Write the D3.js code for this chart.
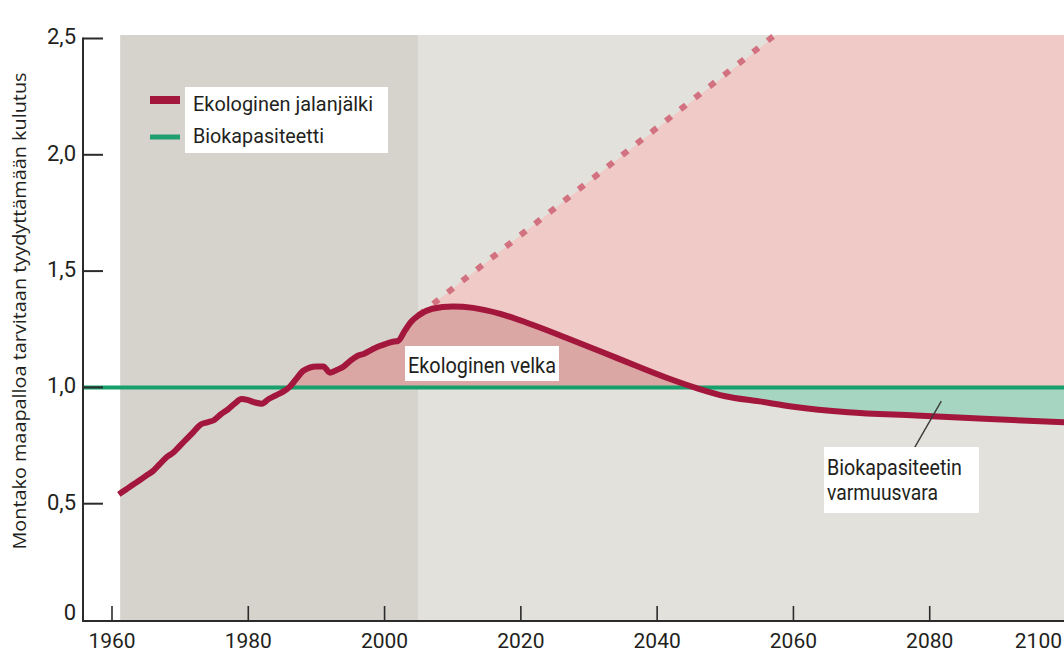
<!DOCTYPE html>
<html>
<head>
<meta charset="utf-8">
<script src="https://cdn.jsdelivr.net/npm/d3@7"></script>
<style>
  body { margin: 0; background: #fff; }
  svg { display: block; }
  .narrow { font-family: "Liberation Sans Narrow", "Arial Narrow", Roboto, sans-serif; fill: #231f20; }
</style>
</head>
<body>
<svg id="chart" width="1064" height="654"></svg>
<script>
// historical footprint, 1961-2005
const histYears = [1961,1962,1963,1964,1965,1966,1967,1968,1969,1970,1971,1972,1973,1974,1975,1976,1977,1978,1979,1980,
  1981,1982,1983,1984,1985,1986,1987,1988,1989,1990,1991,1992,1993,1994,1995,1996,1997,1998,1999,2000,2001,2002,2003,2004,2005];
const histValues = [0.54,0.56,0.58,0.60,0.62,0.64,0.67,0.70,0.72,0.75,0.78,0.81,0.84,0.85,0.86,0.885,0.905,0.93,0.95,0.945,
  0.935,0.93,0.95,0.965,0.98,1.00,1.035,1.07,1.085,1.09,1.09,1.063,1.075,1.09,1.115,1.135,1.145,1.16,1.175,1.185,1.195,1.2,1.245,1.285,1.31];
// scenario after 2005
const futureYears = [2007,2010,2013,2017,2022,2027,2032,2037,2042,2046,2050,2055,2060,2068,2078,2088,2100];
const futureValues = [1.338,1.348,1.342,1.316,1.266,1.209,1.151,1.092,1.035,0.995,0.962,0.94,0.917,0.893,0.879,0.865,0.85];
// business as usual (dashed)
const bauYears = [2005, 2057.5];
const bauValues = [1.31, 2.52];
// biocapacity
const bioYears = [1955.75, 2100];
const bioValues = [1, 1];

const xTicks = [1960,1980,2000,2020,2040,2060,2080,2100];
const yTicks = [0,0.5,1,1.5,2,2.5];
const yTickLabels = ["0","0,5","1,0","1,5","2,0","2,5"];

const W = 1064, H = 654;
const svg = d3.select("#chart");
const x = d3.scaleLinear().domain([1960, 2100]).range([112, 1066]);
const y = d3.scaleLinear().domain([0, 2.5]).range([620, 38.5]);
const axisX = 83;
const plotTop = y(2.515), plotBottom = y(0) + 1;

const foot = histYears.map((d, i) => ({year: d, v: histValues[i]}))
  .concat(futureYears.map((d, i) => ({year: d, v: futureValues[i]})));

// backgrounds
svg.append("rect").attr("x", x(1961.2)).attr("y", plotTop)
  .attr("width", x(2005) - x(1961.2)).attr("height", plotBottom - plotTop).attr("fill", "#d6d3cd");
svg.append("rect").attr("x", x(2005)).attr("y", plotTop)
  .attr("width", W - x(2005)).attr("height", plotBottom - plotTop).attr("fill", "#e3e1dc");

// light pink region under the BAU line
const pinkPts = [[bauYears[0], bauValues[0]], [bauYears[1], 2.515], [2100, 2.515], [2100, 1], [bauYears[0], 1]];
svg.append("path")
  .attr("d", d3.line().x(d => x(d[0])).y(d => y(d[1]))(pinkPts) + "Z")
  .attr("fill", "#efcac6");

const defs = svg.append("defs");
defs.append("clipPath").attr("id", "above")
  .append("rect").attr("x", x(1961)).attr("y", 0).attr("width", W).attr("height", y(1));
defs.append("clipPath").attr("id", "below")
  .append("rect").attr("x", x(2040)).attr("y", y(1)).attr("width", W).attr("height", H - y(1));

const area = d3.area().x(d => x(d.year)).y0(y(1)).y1(d => y(d.v)).curve(d3.curveMonotoneX);
svg.append("path").attr("d", area(foot)).attr("fill", "#dba7a5").attr("clip-path", "url(#above)");
svg.append("path").attr("d", area(foot)).attr("fill", "#a6d6c2").attr("clip-path", "url(#below)");

// biocapacity line
svg.append("path")
  .attr("d", d3.line().x(d => x(d[0])).y(d => y(d[1]))(bioYears.map((d, i) => [d, bioValues[i]])))
  .attr("stroke", "#17a06b").attr("stroke-width", 4).attr("fill", "none");

// BAU dashed
svg.append("path")
  .attr("d", d3.line().x(d => x(d[0])).y(d => y(d[1]))(bauYears.map((d, i) => [d, bauValues[i]])))
  .attr("stroke", "#d27281").attr("stroke-width", 6).attr("stroke-dasharray", "7,11.5")
  .attr("fill", "none");

// footprint curve
svg.append("path")
  .attr("d", d3.line().x(d => x(d.year)).y(d => y(d.v)).curve(d3.curveMonotoneX)(foot))
  .attr("stroke", "#a3173d").attr("stroke-width", 6).attr("fill", "none")
  .attr("stroke-linejoin", "round");

// axes
svg.append("line").attr("x1", axisX).attr("x2", axisX).attr("y1", y(2.5) - 1).attr("y2", plotBottom + 1)
  .attr("stroke", "#2b2b2b").attr("stroke-width", 2);
svg.append("line").attr("x1", axisX - 1).attr("x2", W).attr("y1", plotBottom).attr("y2", plotBottom)
  .attr("stroke", "#2b2b2b").attr("stroke-width", 2);

yTicks.forEach((t, i) => {
  if (t > 0) svg.append("line").attr("x1", axisX).attr("x2", axisX + 20).attr("y1", y(t)).attr("y2", y(t))
    .attr("stroke", "#2b2b2b").attr("stroke-width", 2);
  svg.append("text").attr("class", "narrow").attr("x", 76).attr("y", t > 0 ? y(t) : y(t) - 6)
    .attr("text-anchor", "end").attr("dominant-baseline", "middle")
    .attr("font-size", 22).text(yTickLabels[i]);
});

xTicks.forEach((t, i) => {
  svg.append("line").attr("x1", x(t)).attr("x2", x(t)).attr("y1", plotBottom - 15).attr("y2", plotBottom)
    .attr("stroke", "#2b2b2b").attr("stroke-width", 1.6);
  const last = i === xTicks.length - 1;
  svg.append("text").attr("class", "narrow")
    .attr("x", last ? W - 2 : x(t)).attr("y", 648)
    .attr("text-anchor", last ? "end" : "middle")
    .attr("font-size", 21).text(t);
});

svg.append("text")
  .attr("transform", "translate(26,311) rotate(-90)")
  .attr("text-anchor", "middle")
  .attr("font-family", "'Open Sans', sans-serif").attr("font-size", 19).attr("fill", "#231f20")
  .attr("textLength", 477).attr("lengthAdjust", "spacingAndGlyphs")
  .text("Montako maapalloa tarvitaan tyydyttämään kulutus");

// legend
const legend = svg.append("g");
legend.append("rect").attr("x", 185).attr("y", 87).attr("width", 203).attr("height", 66).attr("fill", "#fff");
legend.append("line").attr("x1", 150).attr("x2", 180).attr("y1", 100).attr("y2", 100)
  .attr("stroke", "#a3173d").attr("stroke-width", 8);
legend.append("line").attr("x1", 150).attr("x2", 180).attr("y1", 137).attr("y2", 137)
  .attr("stroke", "#1f9e70").attr("stroke-width", 5);
legend.append("text").attr("class", "narrow").attr("x", 193).attr("y", 111).attr("font-size", 21)
  .attr("textLength", 180).attr("lengthAdjust", "spacingAndGlyphs").text("Ekologinen jalanjälki");
legend.append("text").attr("class", "narrow").attr("x", 193).attr("y", 143).attr("font-size", 21)
  .attr("textLength", 131).attr("lengthAdjust", "spacingAndGlyphs").text("Biokapasiteetti");

// annotations
svg.append("rect").attr("x", 405).attr("y", 346).attr("width", 154).attr("height", 35).attr("fill", "#fff");
svg.append("text").attr("class", "narrow").attr("x", 408).attr("y", 373).attr("font-size", 22)
  .attr("textLength", 148).attr("lengthAdjust", "spacingAndGlyphs").text("Ekologinen velka");

svg.append("line").attr("x1", x(2077.8)).attr("y1", y(0.742)).attr("x2", x(2081.7)).attr("y2", y(0.941))
  .attr("stroke", "#3a3a3a").attr("stroke-width", 1.4);
svg.append("rect").attr("x", 824).attr("y", 447).attr("width", 155).attr("height", 66).attr("fill", "#fff");
svg.append("text").attr("class", "narrow").attr("x", 827).attr("y", 475).attr("font-size", 22)
  .attr("textLength", 135).attr("lengthAdjust", "spacingAndGlyphs").text("Biokapasiteetin");
svg.append("text").attr("class", "narrow").attr("x", 827).attr("y", 500).attr("font-size", 22)
  .attr("textLength", 111).attr("lengthAdjust", "spacingAndGlyphs").text("varmuusvara");
</script>
</body>
</html>
